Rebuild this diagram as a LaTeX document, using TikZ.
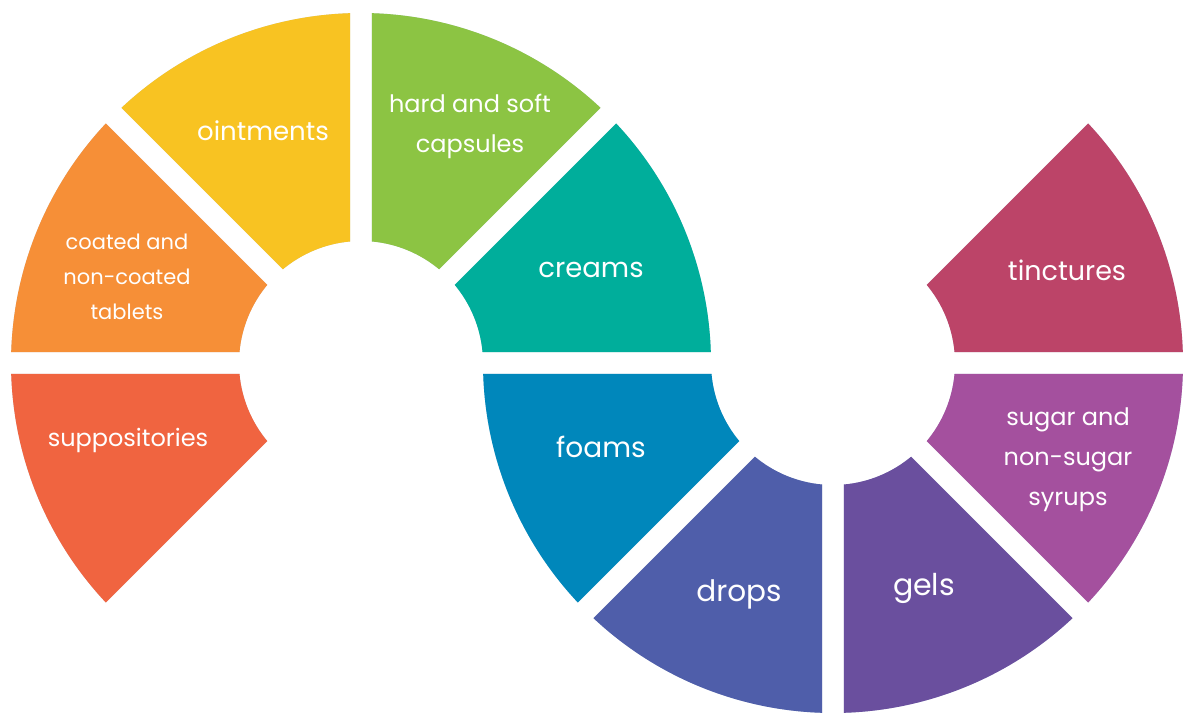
\documentclass[tikz,border=0pt]{standalone}
\usepackage{fontspec}
\setmainfont{Poppins}
\usetikzlibrary{calc}

\definecolor{suppcol}{RGB}{240,100,64}
\definecolor{tabcol}{RGB}{246,143,55}
\definecolor{ointcol}{RGB}{248,195,34}
\definecolor{capscol}{RGB}{140,196,67}
\definecolor{creamcol}{RGB}{0,174,155}
\definecolor{foamcol}{RGB}{0,135,187}
\definecolor{dropcol}{RGB}{79,94,170}
\definecolor{gelcol}{RGB}{106,79,158}
\definecolor{syrupcol}{RGB}{164,80,158}
\definecolor{tinccol}{RGB}{188,68,104}
\definecolor{shadecol}{RGB}{160,182,208}

% one ring piece: centre, start angle, fill options
\newcommand{\petal}[3]{%
  \fill[#3] ($(#1)+({#2+5.17}:122)$) arc[start angle={#2+5.17}, end angle={#2+39.83}, radius=122pt]
    -- ($(#1)+({#2+43.2}:350)$) arc[start angle={#2+43.2}, end angle={#2+1.8}, radius=350pt] -- cycle;}

\begin{document}
\begin{tikzpicture}[
  x=1pt, y=1pt,
  label/.style={text=white, align=center, inner sep=0pt},
  big/.style={label, font=\fontsize{28}{30}\selectfont},
  mid/.style={label, font=\fontsize{24}{40}\selectfont},
  small/.style={label, font=\fontsize{21}{35}\selectfont}
]
\useasboundingbox (0,0) rectangle (1184,713);

\coordinate (left) at (361,350);
\coordinate (right) at (833,350);

% soft shadows
\foreach \c/\a in {left/180, left/135, left/90, left/45, left/0,
                   right/180, right/225, right/270, right/315, right/0} {
  \begin{scope}[shift={(1,-2)}]
    \petal{\c}{\a}{shadecol, opacity=0.35}
  \end{scope}
  \begin{scope}[shift={(3,-5)}]
    \petal{\c}{\a}{shadecol, opacity=0.2}
  \end{scope}
  \begin{scope}[shift={(5,-8)}]
    \petal{\c}{\a}{shadecol, opacity=0.1}
  \end{scope}
}

% ring pieces
\foreach \c/\a/\col in {left/180/suppcol, left/135/tabcol, left/90/ointcol,
                        left/45/capscol, left/0/creamcol, right/180/foamcol,
                        right/225/dropcol, right/270/gelcol, right/315/syrupcol,
                        right/0/tinccol} {
  \petal{\c}{\a}{\col}
}

\node[mid] (supp) at (128,273) {suppositories};
\node[small] (tablets) at (127,436) {coated and\\non-coated\\tablets};
\node[big, font=\fontsize{26}{30}\selectfont] (oint) at (263,582) {ointments};
\node[mid] (caps) at (470,587) {hard and soft\\capsules};
\node[big, font=\fontsize{27.5}{30}\selectfont] (cream) at (591,443) {creams};
\node[big] (foam) at (601,266) {foams};
\node[big, font=\fontsize{29.5}{30}\selectfont] (drop) at (739,119) {drops};
\node[big, font=\fontsize{30}{30}\selectfont] (gel) at (924,125) {gels};
\node[mid] (syrup) at (1068,253) {sugar and\\non-sugar\\syrups};
\node[big, font=\fontsize{27}{30}\selectfont] (tinct) at (1067,443) {tinctures};
\end{tikzpicture}
\end{document}
